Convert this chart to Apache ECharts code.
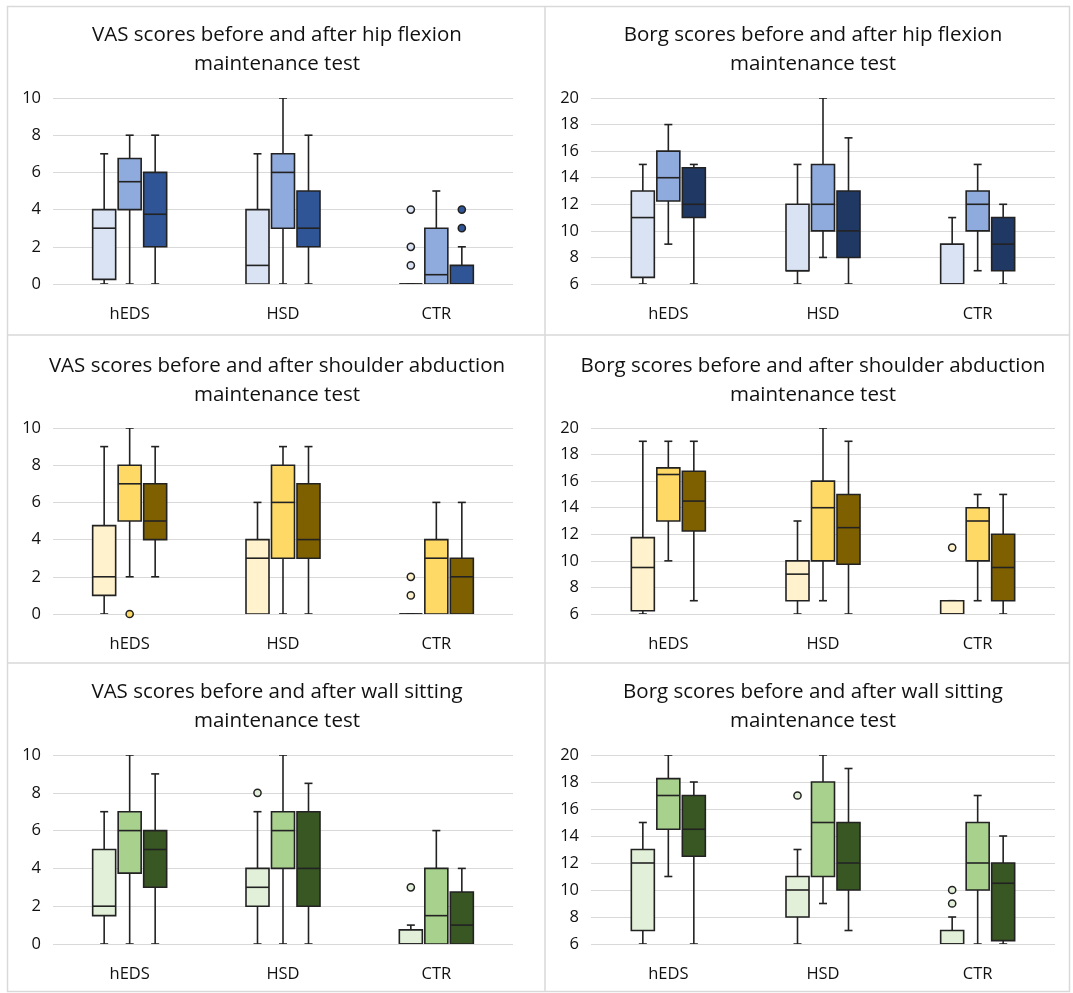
<!DOCTYPE html>
<html><head><meta charset="utf-8">
<script src="https://cdn.jsdelivr.net/npm/echarts@6/dist/echarts.min.js"></script>
<style>html,body{margin:0;padding:0;background:#fff}#c{width:1073px;height:993px}</style>
</head><body><div id="c"></div>
<script>
// ---------------- DATA ----------------
const categories = ['hEDS', 'HSD', 'CTR'];
const seriesNames = ['Before', 'After', 'Recovery'];

// each row: [min, Q1, median, Q3, max] for hEDS, HSD, CTR
const vasHip1 = [[0, 0.25, 3, 4, 7], [0, 0, 1, 4, 7], [0, 0, 0, 0, 0]];
const vasHip2 = [[0, 4, 5.5, 6.75, 8], [0, 3, 6, 7, 10], [0, 0, 0.5, 3, 5]];
const vasHip3 = [[0, 2, 3.75, 6, 8], [0, 2, 3, 5, 8], [0, 0, 0, 1, 2]];
const vasHipOut1 = [['CTR', 4], ['CTR', 2], ['CTR', 1]];
const vasHipOut2 = [];
const vasHipOut3 = [['CTR', 4], ['CTR', 3]];

const borgHip1 = [[6, 6.5, 11, 13, 15], [6, 7, 7, 12, 15], [6, 6, 6, 9, 11]];
const borgHip2 = [[9, 12.25, 14, 16, 18], [8, 10, 12, 15, 20], [7, 10, 12, 13, 15]];
const borgHip3 = [[6, 11, 12, 14.75, 15], [6, 8, 10, 13, 17], [6, 7, 9, 11, 12]];
const borgHipOut1 = [];
const borgHipOut2 = [];
const borgHipOut3 = [];

const vasSho1 = [[0, 1, 2, 4.75, 9], [0, 0, 3, 4, 6], [0, 0, 0, 0, 0]];
const vasSho2 = [[2, 5, 7, 8, 10], [0, 3, 6, 8, 9], [0, 0, 3, 4, 6]];
const vasSho3 = [[2, 4, 5, 7, 9], [0, 3, 4, 7, 9], [0, 0, 2, 3, 6]];
const vasShoOut1 = [['CTR', 2], ['CTR', 1]];
const vasShoOut2 = [['hEDS', 0]];
const vasShoOut3 = [];

const borgSho1 = [[6, 6.25, 9.5, 11.75, 19], [6, 7, 9, 10, 13], [6, 6, 6, 7, 7]];
const borgSho2 = [[10, 13, 16.5, 17, 19], [7, 10, 14, 16, 20], [7, 10, 13, 14, 15]];
const borgSho3 = [[7, 12.25, 14.5, 16.75, 19], [6, 9.75, 12.5, 15, 19], [6, 7, 9.5, 12, 15]];
const borgShoOut1 = [['CTR', 11]];
const borgShoOut2 = [];
const borgShoOut3 = [];

const vasWall1 = [[0, 1.5, 2, 5, 7], [0, 2, 3, 4, 7], [0, 0, 0, 0.75, 1]];
const vasWall2 = [[0, 3.75, 6, 7, 10], [0, 4, 6, 7, 10], [0, 0, 1.5, 4, 6]];
const vasWall3 = [[0, 3, 5, 6, 9], [0, 2, 4, 7, 8.5], [0, 0, 1, 2.75, 4]];
const vasWallOut1 = [['HSD', 8], ['CTR', 3]];
const vasWallOut2 = [];
const vasWallOut3 = [];

const borgWall1 = [[6, 7, 12, 13, 15], [6, 8, 10, 11, 13], [6, 6, 6, 7, 8]];
const borgWall2 = [[11, 14.5, 17, 18.25, 20], [9, 11, 15, 18, 20], [6, 10, 12, 15, 17]];
const borgWall3 = [[6, 12.5, 14.5, 17, 18], [7, 10, 12, 15, 19], [6, 6.25, 10.5, 12, 14]];
const borgWallOut1 = [['HSD', 17], ['CTR', 10], ['CTR', 9]];
const borgWallOut2 = [];
const borgWallOut3 = [];

const vasTicks = [0, 2, 4, 6, 8, 10];
const borgTicks = [6, 8, 10, 12, 14, 16, 18, 20];

// ---------------- LAYOUT / STYLE ----------------
const FONT = '"Open Sans", "Noto Sans", sans-serif';
const TXT = '#111111';
const EDGE = '#222222';
const LW = 1.6;
const STEP = 25.5;
const BOX_W = 23;
const CAP_W = 8;

const blue = ['#dae3f3', '#8faadc', '#2f5597'];
const blueB = ['#dae3f3', '#8faadc', '#203864'];
const gold = ['#fff2cc', '#ffd966', '#7f6000'];
const green = ['#e2f0d9', '#a9d18e', '#385723'];

const colX = [{left: 53, width: 460, center: 272}, {left: 591, width: 464, center: 808}];
const rowY = [{top: 98, height: 186, title: 16}, {top: 428, height: 186, title: 347}, {top: 755, height: 189, title: 673}];

const panels = [
  {title: 'VAS scores before and after hip flexion\nmaintenance test', col: 0, row: 0, ticks: vasTicks,
   boxes: [vasHip1, vasHip2, vasHip3], outs: [vasHipOut1, vasHipOut2, vasHipOut3], colors: blue},
  {title: 'Borg scores before and after hip flexion\nmaintenance test', col: 1, row: 0, ticks: borgTicks,
   boxes: [borgHip1, borgHip2, borgHip3], outs: [borgHipOut1, borgHipOut2, borgHipOut3], colors: blueB},
  {title: 'VAS scores before and after shoulder abduction\nmaintenance test', col: 0, row: 1, ticks: vasTicks,
   boxes: [vasSho1, vasSho2, vasSho3], outs: [vasShoOut1, vasShoOut2, vasShoOut3], colors: gold},
  {title: 'Borg scores before and after shoulder abduction\nmaintenance test', col: 1, row: 1, ticks: borgTicks,
   boxes: [borgSho1, borgSho2, borgSho3], outs: [borgShoOut1, borgShoOut2, borgShoOut3], colors: gold},
  {title: 'VAS scores before and after wall sitting\nmaintenance test', col: 0, row: 2, ticks: vasTicks,
   boxes: [vasWall1, vasWall2, vasWall3], outs: [vasWallOut1, vasWallOut2, vasWallOut3], colors: green},
  {title: 'Borg scores before and after wall sitting\nmaintenance test', col: 1, row: 2, ticks: borgTicks,
   boxes: [borgWall1, borgWall2, borgWall3], outs: [borgWallOut1, borgWallOut2, borgWallOut3], colors: green}
];

function boxRender(k, fill) {
  return function (params, api) {
    const cat = api.value(0);
    const cx = api.coord([cat, 0])[0] + (k - 1) * STEP;
    const y = [1, 2, 3, 4, 5].map(function (d) { return api.coord([cat, api.value(d)])[1]; });
    const hw = BOX_W / 2, cw = CAP_W / 2;
    function ln(x1, y1, x2, y2) {
      return {type: 'line', shape: {x1: x1, y1: y1, x2: x2, y2: y2}, style: {stroke: EDGE, lineWidth: LW}};
    }
    return {type: 'group', children: [
      ln(cx, y[0], cx, y[1]),
      ln(cx, y[3], cx, y[4]),
      ln(cx - cw, y[0], cx + cw, y[0]),
      ln(cx - cw, y[4], cx + cw, y[4]),
      {type: 'rect', shape: {x: cx - hw, y: y[3], width: BOX_W, height: y[1] - y[3]},
       style: {fill: fill, stroke: EDGE, lineWidth: LW}},
      ln(cx - hw, y[2], cx + hw, y[2])
    ]};
  };
}
function outRender(k, fill) {
  return function (params, api) {
    const p = api.coord([api.value(0), api.value(1)]);
    return {type: 'circle', shape: {cx: p[0] + (k - 1) * STEP, cy: p[1], r: 3.6},
            style: {fill: fill, stroke: EDGE, lineWidth: 1.5}};
  };
}

const option = {
  backgroundColor: '#fff',
  animation: false,
  textStyle: {fontFamily: FONT},
  title: [], grid: [], xAxis: [], yAxis: [], series: [],
  graphic: {elements: [
    {type: 'rect', shape: {x: 7.5, y: 6.5, width: 1062, height: 985}, style: {fill: 'none', stroke: '#d9d9d9', lineWidth: 1.5}, silent: true},
    {type: 'line', shape: {x1: 545, y1: 6.5, x2: 545, y2: 991.5}, style: {stroke: '#d9d9d9', lineWidth: 1.5}, silent: true},
    {type: 'line', shape: {x1: 7.5, y1: 335, x2: 1069.5, y2: 335}, style: {stroke: '#d9d9d9', lineWidth: 1.5}, silent: true},
    {type: 'line', shape: {x1: 7.5, y1: 663, x2: 1069.5, y2: 663}, style: {stroke: '#d9d9d9', lineWidth: 1.5}, silent: true}
  ]}
};

panels.forEach(function (p, i) {
  const c = colX[p.col], r = rowY[p.row];
  option.title.push({
    text: p.title, left: c.center, top: r.title, textAlign: 'center',
    textStyle: {fontFamily: FONT, fontSize: 20.5, fontWeight: 'normal', color: TXT, lineHeight: 29}
  });
  option.grid.push({left: c.left, top: r.top, width: c.width, height: r.height, containLabel: false});
  option.xAxis.push({
    type: 'category', gridIndex: i, data: categories,
    axisLine: {show: false}, axisTick: {show: false},
    axisLabel: {fontFamily: FONT, fontSize: 16.5, color: TXT, margin: 22}
  });
  const t = p.ticks;
  option.yAxis.push({
    type: 'value', gridIndex: i, min: t[0], max: t[t.length - 1], interval: t[1] - t[0],
    axisLine: {show: false}, axisTick: {show: false},
    axisLabel: {fontFamily: FONT, fontSize: 16.5, color: TXT, margin: 12},
    splitLine: {lineStyle: {color: '#d9d9d9', width: 1}}
  });
  p.boxes.forEach(function (arr, k) {
    option.series.push({
      type: 'custom', name: seriesNames[k], xAxisIndex: i, yAxisIndex: i, clip: true,
      renderItem: boxRender(k, p.colors[k]),
      encode: {x: 0, y: [1, 2, 3, 4, 5]},
      data: categories.map(function (cat, j) { return [cat].concat(arr[j]); })
    });
  });
  p.outs.forEach(function (arr, k) {
    option.series.push({
      type: 'custom', name: seriesNames[k] + ' outliers', xAxisIndex: i, yAxisIndex: i,
      renderItem: outRender(k, p.colors[k]),
      encode: {x: 0, y: 1},
      data: arr
    });
  });
});

const chart = echarts.init(document.getElementById('c'), null, {renderer: 'canvas'});
chart.setOption(option);
</script>
</body></html>
